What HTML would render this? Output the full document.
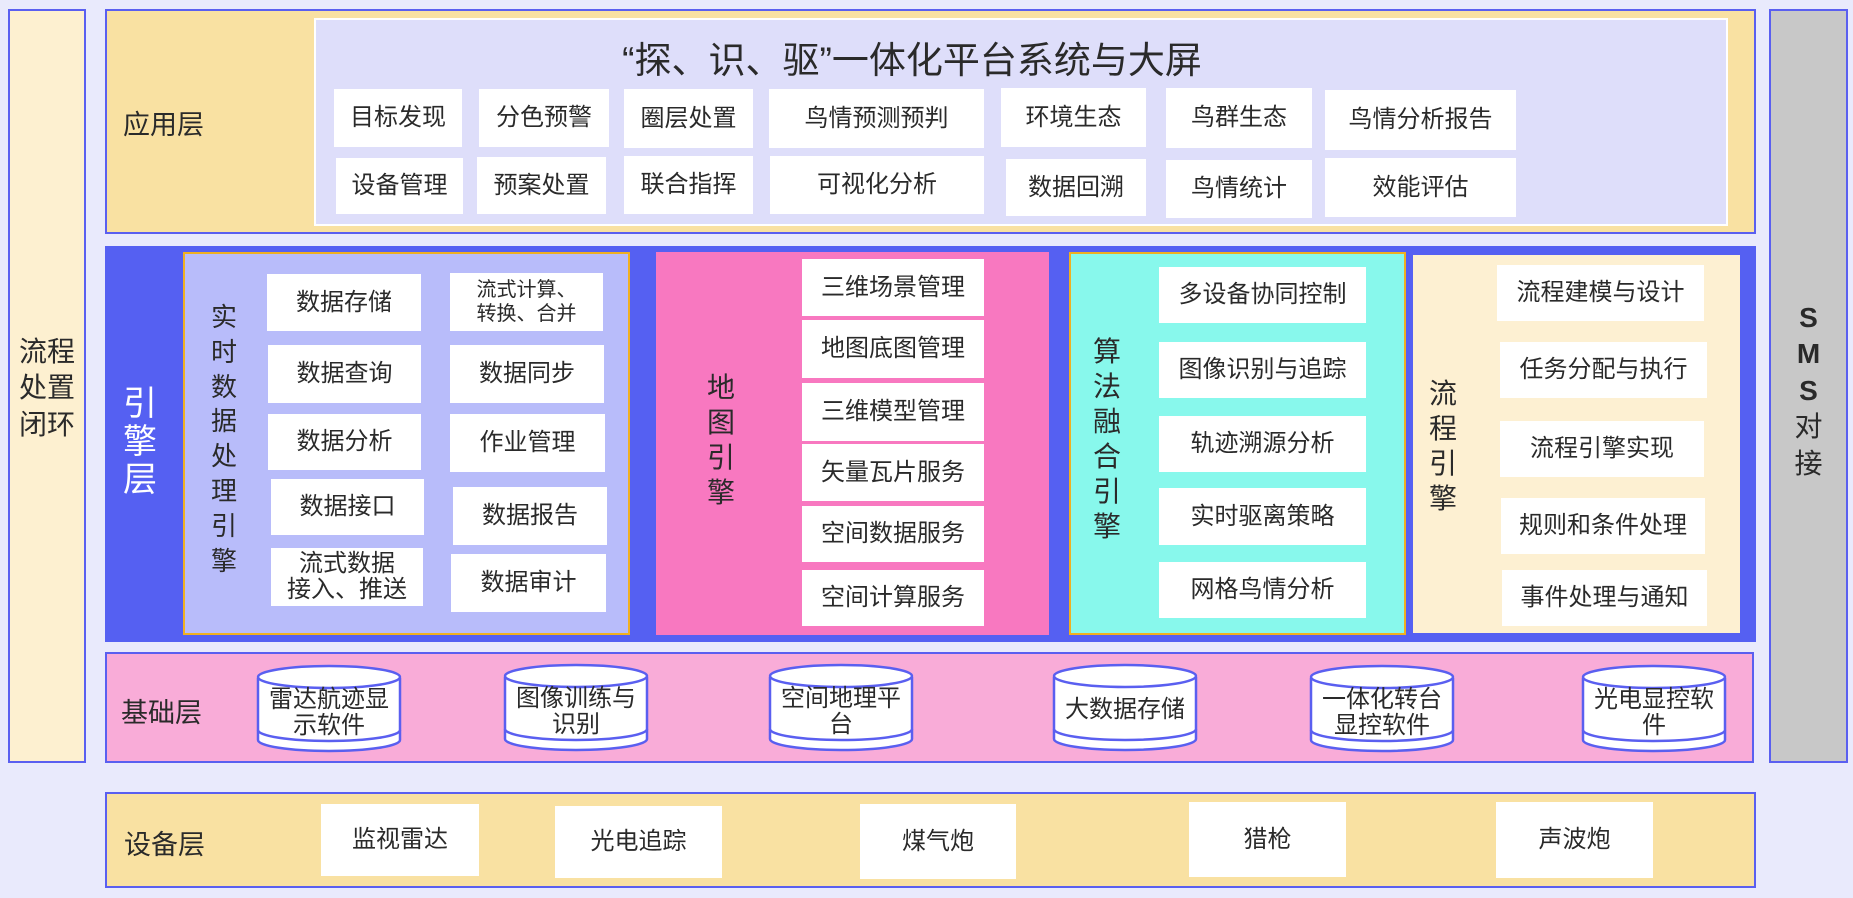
<!DOCTYPE html>
<html><head><meta charset="utf-8">
<style>
*{margin:0;padding:0;box-sizing:border-box}
body{width:1853px;height:898px;background:#e9eafc;position:relative;overflow:hidden;font-family:"Liberation Sans","Noto Sans CJK SC",sans-serif;color:#2a2a2a}
div{position:absolute}
.b{background:#fff;display:flex;align-items:center;justify-content:center;text-align:center;font-size:24px;line-height:1.15}
.v{text-align:center;line-height:1.32;font-size:26px}
.lbl{font-size:27px}
.cyl{position:absolute}
.cyl span{position:absolute;left:-4px;right:-4px;top:23px;text-align:center;font-size:24px;line-height:1.1}
</style></head><body>

<div style="left:8px;top:9px;width:78px;height:754px;background:#fdf0d0;border:2px solid #5a5ff0"></div>
<div class="v" style="left:8px;top:334px;width:78px;font-size:28px;line-height:1.3">流程<br>处置<br>闭环</div>

<div style="left:1769px;top:9px;width:79px;height:754px;background:#c8c8c8;border:2px solid #5a5ff0"></div>
<div class="v" style="left:1769px;top:300px;width:79px;font-size:28px;line-height:1.3"><b>S</b><br><b>M</b><br><b>S</b><br>对<br>接</div>

<div style="left:105px;top:9px;width:1651px;height:225px;background:#f9e1a2;border:2px solid #5a5ff0"></div>
<div class="lbl" style="left:123px;top:103px">应用层</div>
<div style="left:314px;top:18px;width:1414px;height:208px;background:#dedefa;border:2px solid #fff"></div>
<div style="left:314px;top:30px;width:1196px;text-align:center;font-size:37px;white-space:nowrap">“探、识、驱”一体化平台系统与大屏</div>
<div class="b" style="left:334px;top:89px;width:128px;height:58px">目标发现</div>
<div class="b" style="left:479px;top:89px;width:130px;height:58px">分色预警</div>
<div class="b" style="left:624px;top:89px;width:129px;height:59px">圈层处置</div>
<div class="b" style="left:769px;top:89px;width:215px;height:59px">鸟情预测预判</div>
<div class="b" style="left:1001px;top:88px;width:145px;height:59px">环境生态</div>
<div class="b" style="left:1166px;top:88px;width:146px;height:60px">鸟群生态</div>
<div class="b" style="left:1325px;top:90px;width:191px;height:60px">鸟情分析报告</div>
<div class="b" style="left:336px;top:158px;width:127px;height:56px">设备管理</div>
<div class="b" style="left:477px;top:157px;width:129px;height:57px">预案处置</div>
<div class="b" style="left:624px;top:156px;width:129px;height:58px">联合指挥</div>
<div class="b" style="left:770px;top:156px;width:214px;height:58px">可视化分析</div>
<div class="b" style="left:1006px;top:159px;width:140px;height:57px">数据回溯</div>
<div class="b" style="left:1166px;top:160px;width:146px;height:58px">鸟情统计</div>
<div class="b" style="left:1325px;top:158px;width:191px;height:59px">效能评估</div>

<div style="left:105px;top:246px;width:1651px;height:396px;background:#5560f2"></div>
<div class="v" style="left:105px;top:385px;width:70px;color:#fff;font-size:34px;line-height:1.12">引<br>擎<br>层</div>

<div style="left:183px;top:252px;width:447px;height:383px;background:#b8bcfa;border:2px solid #f0b020"></div>
<div class="v" style="left:204px;top:300px;width:40px;font-size:26px;line-height:1.34">实<br>时<br>数<br>据<br>处<br>理<br>引<br>擎</div>
<div class="b" style="left:267px;top:274px;width:154px;height:57px">数据存储</div>
<div class="b" style="left:268px;top:345px;width:153px;height:58px">数据查询</div>
<div class="b" style="left:268px;top:414px;width:153px;height:56px">数据分析</div>
<div class="b" style="left:271px;top:479px;width:153px;height:56px">数据接口</div>
<div class="b" style="left:271px;top:548px;width:152px;height:58px;line-height:1.08">流式数据<br>接入、推送</div>
<div class="b" style="left:450px;top:273px;width:153px;height:58px;font-size:20px;line-height:1.2">流式计算、<br>转换、合并</div>
<div class="b" style="left:450px;top:345px;width:154px;height:58px">数据同步</div>
<div class="b" style="left:450px;top:414px;width:155px;height:58px">作业管理</div>
<div class="b" style="left:453px;top:487px;width:154px;height:58px">数据报告</div>
<div class="b" style="left:451px;top:554px;width:155px;height:58px">数据审计</div>

<div style="left:656px;top:252px;width:393px;height:383px;background:#f878c0"></div>
<div class="v" style="left:701px;top:370px;width:40px;font-size:28px;line-height:1.25">地<br>图<br>引<br>擎</div>
<div class="b" style="left:802px;top:259px;width:182px;height:57px">三维场景管理</div>
<div class="b" style="left:802px;top:320px;width:182px;height:58px">地图底图管理</div>
<div class="b" style="left:802px;top:383px;width:182px;height:58px">三维模型管理</div>
<div class="b" style="left:802px;top:444px;width:182px;height:57px">矢量瓦片服务</div>
<div class="b" style="left:802px;top:506px;width:182px;height:56px">空间数据服务</div>
<div class="b" style="left:802px;top:570px;width:182px;height:56px">空间计算服务</div>

<div style="left:1069px;top:252px;width:337px;height:383px;background:#88f8ec;border:2px solid #f0b020"></div>
<div class="v" style="left:1087px;top:334px;width:40px;font-size:28px;line-height:1.25">算<br>法<br>融<br>合<br>引<br>擎</div>
<div class="b" style="left:1159px;top:267px;width:207px;height:56px">多设备协同控制</div>
<div class="b" style="left:1159px;top:342px;width:207px;height:56px">图像识别与追踪</div>
<div class="b" style="left:1159px;top:416px;width:207px;height:56px">轨迹溯源分析</div>
<div class="b" style="left:1159px;top:488px;width:207px;height:57px">实时驱离策略</div>
<div class="b" style="left:1159px;top:562px;width:207px;height:56px">网格鸟情分析</div>

<div style="left:1413px;top:255px;width:327px;height:378px;background:#fdf0d2"></div>
<div class="v" style="left:1423px;top:376px;width:40px;font-size:28px;line-height:1.25">流<br>程<br>引<br>擎</div>
<div class="b" style="left:1497px;top:265px;width:207px;height:56px">流程建模与设计</div>
<div class="b" style="left:1500px;top:342px;width:207px;height:56px">任务分配与执行</div>
<div class="b" style="left:1500px;top:421px;width:204px;height:56px">流程引擎实现</div>
<div class="b" style="left:1501px;top:498px;width:204px;height:56px">规则和条件处理</div>
<div class="b" style="left:1502px;top:570px;width:205px;height:56px">事件处理与通知</div>

<div style="left:105px;top:652px;width:1649px;height:111px;background:#f9acd8;border:2px solid #5a5ff0"></div>
<div class="lbl" style="left:121px;top:691px">基础层</div>

<div class="cyl" style="left:256px;top:664px;width:146px;height:92px">
<svg width="146" height="92" style="position:absolute;left:0;top:0"><path d="M2,14 L2,76 A71,11 0 0 0 144,76 L144,14" fill="#fff" stroke="#5a5ff0" stroke-width="2.5"/><path d="M2,66 A71,11 0 0 0 144,66" fill="none" stroke="#5a5ff0" stroke-width="2.5"/><ellipse cx="73" cy="13" rx="71" ry="11" fill="#fff" stroke="#5a5ff0" stroke-width="2.5"/></svg>
<span>雷达航迹显<br>示软件</span></div>
<div class="cyl" style="left:503px;top:663px;width:146px;height:92px">
<svg width="146" height="92" style="position:absolute;left:0;top:0"><path d="M2,14 L2,76 A71,11 0 0 0 144,76 L144,14" fill="#fff" stroke="#5a5ff0" stroke-width="2.5"/><path d="M2,66 A71,11 0 0 0 144,66" fill="none" stroke="#5a5ff0" stroke-width="2.5"/><ellipse cx="73" cy="13" rx="71" ry="11" fill="#fff" stroke="#5a5ff0" stroke-width="2.5"/></svg>
<span>图像训练与<br>识别</span></div>
<div class="cyl" style="left:768px;top:663px;width:146px;height:92px">
<svg width="146" height="92" style="position:absolute;left:0;top:0"><path d="M2,14 L2,76 A71,11 0 0 0 144,76 L144,14" fill="#fff" stroke="#5a5ff0" stroke-width="2.5"/><path d="M2,66 A71,11 0 0 0 144,66" fill="none" stroke="#5a5ff0" stroke-width="2.5"/><ellipse cx="73" cy="13" rx="71" ry="11" fill="#fff" stroke="#5a5ff0" stroke-width="2.5"/></svg>
<span>空间地理平<br>台</span></div>
<div class="cyl" style="left:1052px;top:663px;width:146px;height:92px">
<svg width="146" height="92" style="position:absolute;left:0;top:0"><path d="M2,14 L2,76 A71,11 0 0 0 144,76 L144,14" fill="#fff" stroke="#5a5ff0" stroke-width="2.5"/><path d="M2,66 A71,11 0 0 0 144,66" fill="none" stroke="#5a5ff0" stroke-width="2.5"/><ellipse cx="73" cy="13" rx="71" ry="11" fill="#fff" stroke="#5a5ff0" stroke-width="2.5"/></svg>
<span style="top:34px">大数据存储</span></div>
<div class="cyl" style="left:1309px;top:664px;width:146px;height:92px">
<svg width="146" height="92" style="position:absolute;left:0;top:0"><path d="M2,14 L2,76 A71,11 0 0 0 144,76 L144,14" fill="#fff" stroke="#5a5ff0" stroke-width="2.5"/><path d="M2,66 A71,11 0 0 0 144,66" fill="none" stroke="#5a5ff0" stroke-width="2.5"/><ellipse cx="73" cy="13" rx="71" ry="11" fill="#fff" stroke="#5a5ff0" stroke-width="2.5"/></svg>
<span>一体化转台<br>显控软件</span></div>
<div class="cyl" style="left:1581px;top:664px;width:146px;height:92px">
<svg width="146" height="92" style="position:absolute;left:0;top:0"><path d="M2,14 L2,76 A71,11 0 0 0 144,76 L144,14" fill="#fff" stroke="#5a5ff0" stroke-width="2.5"/><path d="M2,66 A71,11 0 0 0 144,66" fill="none" stroke="#5a5ff0" stroke-width="2.5"/><ellipse cx="73" cy="13" rx="71" ry="11" fill="#fff" stroke="#5a5ff0" stroke-width="2.5"/></svg>
<span>光电显控软<br>件</span></div>

<div style="left:105px;top:792px;width:1651px;height:96px;background:#f9e1a2;border:2px solid #5a5ff0"></div>
<div class="lbl" style="left:124px;top:823px">设备层</div>
<div class="b" style="left:321px;top:804px;width:158px;height:72px">监视雷达</div>
<div class="b" style="left:555px;top:806px;width:167px;height:72px">光电追踪</div>
<div class="b" style="left:860px;top:804px;width:156px;height:75px">煤气炮</div>
<div class="b" style="left:1189px;top:802px;width:157px;height:75px">猎枪</div>
<div class="b" style="left:1496px;top:802px;width:157px;height:76px">声波炮</div>

</body></html>
